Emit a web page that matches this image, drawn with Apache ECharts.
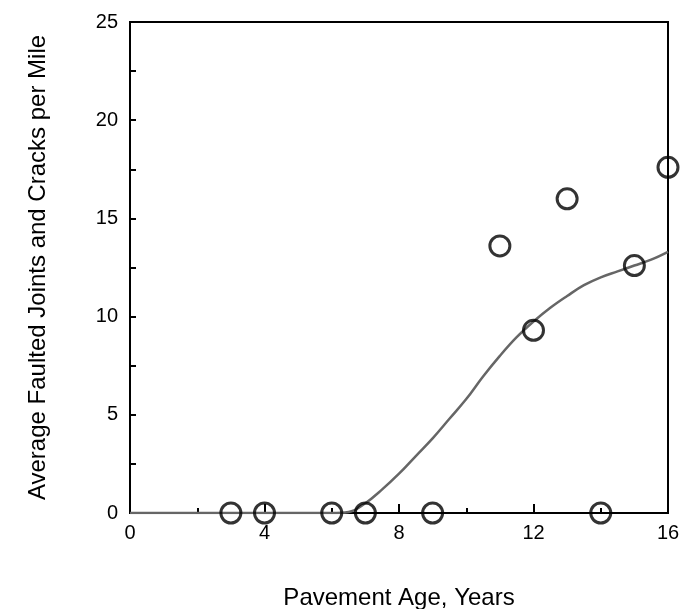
<!DOCTYPE html>
<html><head><meta charset="utf-8">
<script src="https://cdn.jsdelivr.net/npm/echarts@6/dist/echarts.min.js"></script>
<style>html,body{margin:0;padding:0;background:#fff}#c{width:683px;height:609px}</style>
</head><body><div id="c"></div>
<script>
// Observed data points (pavement age, faulted joints+cracks per mile)
const obsAge = [3, 4, 6, 7, 9, 14, 11, 12, 13, 15, 16];
const obsVal = [0, 0, 0, 0, 0, 0, 13.6, 9.3, 16.0, 12.6, 17.6];
// Fitted curve
const fitAge = [0, 2, 4, 6, 6.5, 7, 7.5, 8, 8.5, 9, 9.5, 10, 10.5, 11, 11.5, 12, 12.5, 13, 13.5, 14, 14.5, 15, 15.5, 16];
const fitVal = [0, 0, 0, 0, 0.05, 0.5, 1.2, 2.0, 2.9, 3.8, 4.8, 5.8, 6.95, 8.0, 8.95, 9.75, 10.45, 11.05, 11.6, 12.0, 12.3, 12.6, 12.9, 13.3];
const xTicks = [0, 4, 8, 12, 16];
const yTicks = [0, 5, 10, 15, 20, 25];

const font = '"Liberation Sans", Arial, Helvetica, sans-serif';
const chart = echarts.init(document.getElementById('c'));
chart.setOption({
  animation: false,
  backgroundColor: '#fff',
  grid: { left: 130, right: 15, top: 22, bottom: 96, outerBoundsMode: 'none', containLabel: false,
          show: true, borderColor: '#000', borderWidth: 2, backgroundColor: 'transparent' },
  xAxis: {
    type: 'value', min: xTicks[0], max: xTicks[xTicks.length - 1], interval: 4,
    name: 'Pavement Age, Years', nameLocation: 'middle', nameGap: 73,
    nameTextStyle: { fontFamily: font, fontSize: 24, color: '#000' },
    axisLine: { lineStyle: { color: '#000', width: 2 } },
    axisTick: { inside: true, length: 9, lineStyle: { color: '#000', width: 2 } },
    minorTick: { show: true, splitNumber: 2, length: 5, lineStyle: { color: '#000', width: 2 } },
    axisLabel: { fontFamily: font, fontSize: 20, color: '#000', margin: 10 },
    splitLine: { show: false }
  },
  yAxis: {
    type: 'value', min: yTicks[0], max: yTicks[yTicks.length - 1], interval: 5,
    name: 'Average Faulted Joints and Cracks per Mile', nameLocation: 'middle', nameGap: 80,
    nameTextStyle: { fontFamily: font, fontSize: 24, color: '#000' },
    axisLine: { lineStyle: { color: '#000', width: 2 } },
    axisTick: { inside: true, length: 6, lineStyle: { color: '#000', width: 2 } },
    minorTick: { show: true, splitNumber: 2, length: 6, lineStyle: { color: '#000', width: 2 } },
    axisLabel: { fontFamily: font, fontSize: 20, color: '#000', margin: 12 },
    splitLine: { show: false }
  },
  series: [
    {
      type: 'line', data: fitAge.map((a, i) => [a, fitVal[i]]), smooth: 0.4,
      showSymbol: false, lineStyle: { color: '#666', width: 2.5 }, z: 3
    },
    {
      type: 'scatter', data: obsAge.map((a, i) => [a, obsVal[i]]), clip: false,
      symbol: 'circle', symbolSize: 20,
      itemStyle: { color: 'rgba(255,255,255,0)', borderColor: '#000', borderWidth: 3 }, z: 4
    }
  ]
});
</script></body></html>
